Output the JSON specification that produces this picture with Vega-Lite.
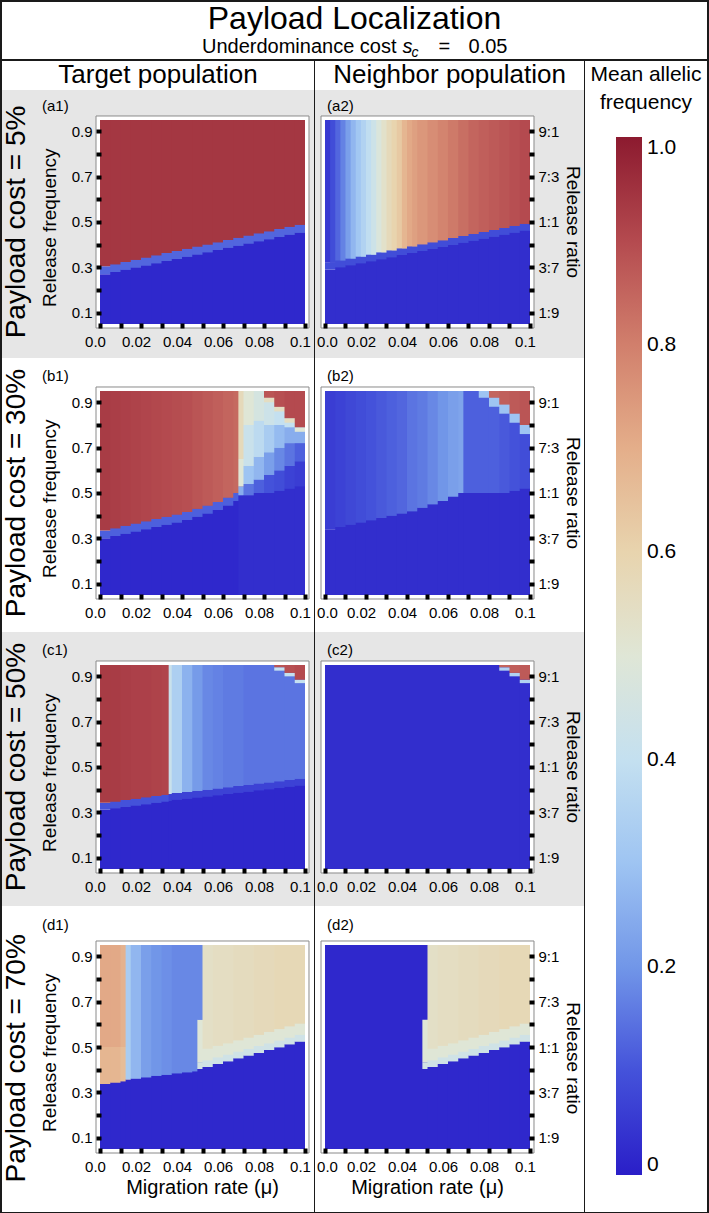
{
"$schema":"https://vega.github.io/schema/vega-lite/v6.json",
"padding":2,
"background":"#1a1a1a",
"spacing":1,
"config":{"font":"Liberation Sans","view":{"stroke":null},
"axis":{"domain":false,"grid":false,"ticks":true,"tickSize":5,"tickWidth":4,"tickColor":"black","labelFontSize":15,"labelColor":"black","labelFlush":false,"labelOverlap":false,"zindex":1},
"axisX":{"labelPadding":6},"axisY":{"labelPadding":4}},
"datasets":{
"a1":[
{"m0":0,"r0":0.05,"r1":0.27,"f":0.02},{"m0":0,"r0":0.27,"r1":0.305,"f":0.13},{"m0":0,"r0":0.305,"r1":0.95,"f":0.94},
{"m0":0.005,"r0":0.05,"r1":0.279,"f":0.02},{"m0":0.005,"r0":0.279,"r1":0.314,"f":0.13},{"m0":0.005,"r0":0.314,"r1":0.95,"f":0.94},
{"m0":0.01,"r0":0.05,"r1":0.289,"f":0.02},{"m0":0.01,"r0":0.289,"r1":0.324,"f":0.13},{"m0":0.01,"r0":0.324,"r1":0.95,"f":0.94},
{"m0":0.015,"r0":0.05,"r1":0.299,"f":0.02},{"m0":0.015,"r0":0.299,"r1":0.334,"f":0.13},{"m0":0.015,"r0":0.334,"r1":0.95,"f":0.94},
{"m0":0.02,"r0":0.05,"r1":0.308,"f":0.02},{"m0":0.02,"r0":0.308,"r1":0.343,"f":0.13},{"m0":0.02,"r0":0.343,"r1":0.95,"f":0.94},
{"m0":0.025,"r0":0.05,"r1":0.318,"f":0.02},{"m0":0.025,"r0":0.318,"r1":0.353,"f":0.13},{"m0":0.025,"r0":0.353,"r1":0.95,"f":0.94},
{"m0":0.03,"r0":0.05,"r1":0.328,"f":0.02},{"m0":0.03,"r0":0.328,"r1":0.363,"f":0.13},{"m0":0.03,"r0":0.363,"r1":0.95,"f":0.94},
{"m0":0.035,"r0":0.05,"r1":0.337,"f":0.02},{"m0":0.035,"r0":0.337,"r1":0.372,"f":0.13},{"m0":0.035,"r0":0.372,"r1":0.95,"f":0.94},
{"m0":0.04,"r0":0.05,"r1":0.347,"f":0.02},{"m0":0.04,"r0":0.347,"r1":0.382,"f":0.13},{"m0":0.04,"r0":0.382,"r1":0.95,"f":0.94},
{"m0":0.045,"r0":0.05,"r1":0.357,"f":0.02},{"m0":0.045,"r0":0.357,"r1":0.392,"f":0.13},{"m0":0.045,"r0":0.392,"r1":0.95,"f":0.94},
{"m0":0.05,"r0":0.05,"r1":0.366,"f":0.02},{"m0":0.05,"r0":0.366,"r1":0.401,"f":0.13},{"m0":0.05,"r0":0.401,"r1":0.95,"f":0.94},
{"m0":0.055,"r0":0.05,"r1":0.376,"f":0.02},{"m0":0.055,"r0":0.376,"r1":0.411,"f":0.13},{"m0":0.055,"r0":0.411,"r1":0.95,"f":0.94},
{"m0":0.06,"r0":0.05,"r1":0.386,"f":0.02},{"m0":0.06,"r0":0.386,"r1":0.421,"f":0.13},{"m0":0.06,"r0":0.421,"r1":0.95,"f":0.94},
{"m0":0.065,"r0":0.05,"r1":0.395,"f":0.02},{"m0":0.065,"r0":0.395,"r1":0.43,"f":0.13},{"m0":0.065,"r0":0.43,"r1":0.95,"f":0.94},
{"m0":0.07,"r0":0.05,"r1":0.405,"f":0.02},{"m0":0.07,"r0":0.405,"r1":0.44,"f":0.13},{"m0":0.07,"r0":0.44,"r1":0.95,"f":0.94},
{"m0":0.075,"r0":0.05,"r1":0.415,"f":0.02},{"m0":0.075,"r0":0.415,"r1":0.45,"f":0.13},{"m0":0.075,"r0":0.45,"r1":0.95,"f":0.94},
{"m0":0.08,"r0":0.05,"r1":0.424,"f":0.02},{"m0":0.08,"r0":0.424,"r1":0.459,"f":0.13},{"m0":0.08,"r0":0.459,"r1":0.95,"f":0.94},
{"m0":0.085,"r0":0.05,"r1":0.434,"f":0.02},{"m0":0.085,"r0":0.434,"r1":0.469,"f":0.13},{"m0":0.085,"r0":0.469,"r1":0.95,"f":0.94},
{"m0":0.09,"r0":0.05,"r1":0.444,"f":0.02},{"m0":0.09,"r0":0.444,"r1":0.479,"f":0.13},{"m0":0.09,"r0":0.479,"r1":0.95,"f":0.94},
{"m0":0.095,"r0":0.05,"r1":0.453,"f":0.02},{"m0":0.095,"r0":0.453,"r1":0.488,"f":0.13},{"m0":0.095,"r0":0.488,"r1":0.95,"f":0.94}
],
"a2":[
{"m0":0,"r0":0.05,"r1":0.29,"f":0.03},{"m0":0,"r0":0.29,"r1":0.32,"f":0.09},{"m0":0,"r0":0.32,"r1":0.95,"f":0.05},{"m0":0.0025,"r0":0.32,"r1":0.95,"f":0.09},
{"m0":0.005,"r0":0.05,"r1":0.3,"f":0.03},{"m0":0.005,"r0":0.3,"r1":0.33,"f":0.09},{"m0":0.005,"r0":0.33,"r1":0.95,"f":0.13},{"m0":0.0075,"r0":0.33,"r1":0.95,"f":0.17},
{"m0":0.01,"r0":0.05,"r1":0.309,"f":0.03},{"m0":0.01,"r0":0.309,"r1":0.339,"f":0.09},{"m0":0.01,"r0":0.339,"r1":0.95,"f":0.22},{"m0":0.0125,"r0":0.339,"r1":0.95,"f":0.27},
{"m0":0.015,"r0":0.05,"r1":0.318,"f":0.03},{"m0":0.015,"r0":0.318,"r1":0.348,"f":0.09},{"m0":0.015,"r0":0.348,"r1":0.95,"f":0.31},{"m0":0.0175,"r0":0.348,"r1":0.95,"f":0.35},
{"m0":0.02,"r0":0.05,"r1":0.327,"f":0.03},{"m0":0.02,"r0":0.327,"r1":0.357,"f":0.09},{"m0":0.02,"r0":0.357,"r1":0.95,"f":0.39},{"m0":0.0225,"r0":0.357,"r1":0.95,"f":0.43},
{"m0":0.025,"r0":0.05,"r1":0.336,"f":0.03},{"m0":0.025,"r0":0.336,"r1":0.366,"f":0.09},{"m0":0.025,"r0":0.366,"r1":0.95,"f":0.48},{"m0":0.0275,"r0":0.366,"r1":0.95,"f":0.53},
{"m0":0.03,"r0":0.05,"r1":0.345,"f":0.03},{"m0":0.03,"r0":0.345,"r1":0.375,"f":0.09},{"m0":0.03,"r0":0.375,"r1":0.95,"f":0.57},{"m0":0.0325,"r0":0.375,"r1":0.95,"f":0.6},
{"m0":0.035,"r0":0.05,"r1":0.354,"f":0.03},{"m0":0.035,"r0":0.354,"r1":0.384,"f":0.09},{"m0":0.035,"r0":0.384,"r1":0.95,"f":0.63},{"m0":0.0375,"r0":0.384,"r1":0.95,"f":0.68},
{"m0":0.04,"r0":0.05,"r1":0.363,"f":0.03},{"m0":0.04,"r0":0.363,"r1":0.393,"f":0.09},{"m0":0.04,"r0":0.393,"r1":0.95,"f":0.71},{"m0":0.0425,"r0":0.393,"r1":0.95,"f":0.73},
{"m0":0.045,"r0":0.05,"r1":0.372,"f":0.03},{"m0":0.045,"r0":0.372,"r1":0.402,"f":0.09},{"m0":0.045,"r0":0.402,"r1":0.95,"f":0.75},
{"m0":0.05,"r0":0.05,"r1":0.381,"f":0.03},{"m0":0.05,"r0":0.381,"r1":0.411,"f":0.09},{"m0":0.05,"r0":0.411,"r1":0.95,"f":0.77},
{"m0":0.055,"r0":0.05,"r1":0.39,"f":0.03},{"m0":0.055,"r0":0.39,"r1":0.42,"f":0.09},{"m0":0.055,"r0":0.42,"r1":0.95,"f":0.79},
{"m0":0.06,"r0":0.05,"r1":0.399,"f":0.03},{"m0":0.06,"r0":0.399,"r1":0.429,"f":0.09},{"m0":0.06,"r0":0.429,"r1":0.95,"f":0.81},
{"m0":0.065,"r0":0.05,"r1":0.408,"f":0.03},{"m0":0.065,"r0":0.408,"r1":0.438,"f":0.09},{"m0":0.065,"r0":0.438,"r1":0.95,"f":0.83},
{"m0":0.07,"r0":0.05,"r1":0.417,"f":0.03},{"m0":0.07,"r0":0.417,"r1":0.447,"f":0.09},{"m0":0.07,"r0":0.447,"r1":0.95,"f":0.85},
{"m0":0.075,"r0":0.05,"r1":0.426,"f":0.03},{"m0":0.075,"r0":0.426,"r1":0.456,"f":0.09},{"m0":0.075,"r0":0.456,"r1":0.95,"f":0.86},
{"m0":0.08,"r0":0.05,"r1":0.435,"f":0.03},{"m0":0.08,"r0":0.435,"r1":0.465,"f":0.09},{"m0":0.08,"r0":0.465,"r1":0.95,"f":0.87},
{"m0":0.085,"r0":0.05,"r1":0.444,"f":0.03},{"m0":0.085,"r0":0.444,"r1":0.474,"f":0.09},{"m0":0.085,"r0":0.474,"r1":0.95,"f":0.88},
{"m0":0.09,"r0":0.05,"r1":0.453,"f":0.03},{"m0":0.09,"r0":0.453,"r1":0.483,"f":0.09},{"m0":0.09,"r0":0.483,"r1":0.95,"f":0.89},
{"m0":0.095,"r0":0.05,"r1":0.462,"f":0.03},{"m0":0.095,"r0":0.462,"r1":0.492,"f":0.09},{"m0":0.095,"r0":0.492,"r1":0.95,"f":0.9}
],
"b1":[
{"m0":0,"r0":0.05,"r1":0.3,"f":0.02},{"m0":0,"r0":0.3,"r1":0.335,"f":0.12},{"m0":0,"r0":0.335,"r1":0.95,"f":0.93},
{"m0":0.005,"r0":0.05,"r1":0.31,"f":0.02},{"m0":0.005,"r0":0.31,"r1":0.345,"f":0.12},{"m0":0.005,"r0":0.345,"r1":0.95,"f":0.925},
{"m0":0.01,"r0":0.05,"r1":0.32,"f":0.02},{"m0":0.01,"r0":0.32,"r1":0.355,"f":0.12},{"m0":0.01,"r0":0.355,"r1":0.95,"f":0.92},
{"m0":0.015,"r0":0.05,"r1":0.33,"f":0.02},{"m0":0.015,"r0":0.33,"r1":0.365,"f":0.12},{"m0":0.015,"r0":0.365,"r1":0.95,"f":0.915},
{"m0":0.02,"r0":0.05,"r1":0.34,"f":0.02},{"m0":0.02,"r0":0.34,"r1":0.375,"f":0.12},{"m0":0.02,"r0":0.375,"r1":0.95,"f":0.91},
{"m0":0.025,"r0":0.05,"r1":0.35,"f":0.02},{"m0":0.025,"r0":0.35,"r1":0.385,"f":0.12},{"m0":0.025,"r0":0.385,"r1":0.95,"f":0.905},
{"m0":0.03,"r0":0.05,"r1":0.36,"f":0.02},{"m0":0.03,"r0":0.36,"r1":0.395,"f":0.12},{"m0":0.03,"r0":0.395,"r1":0.95,"f":0.9},
{"m0":0.035,"r0":0.05,"r1":0.37,"f":0.02},{"m0":0.035,"r0":0.37,"r1":0.405,"f":0.12},{"m0":0.035,"r0":0.405,"r1":0.95,"f":0.895},
{"m0":0.04,"r0":0.05,"r1":0.381,"f":0.02},{"m0":0.04,"r0":0.381,"r1":0.416,"f":0.12},{"m0":0.04,"r0":0.416,"r1":0.95,"f":0.89},
{"m0":0.045,"r0":0.05,"r1":0.395,"f":0.02},{"m0":0.045,"r0":0.395,"r1":0.43,"f":0.12},{"m0":0.045,"r0":0.43,"r1":0.95,"f":0.88},
{"m0":0.05,"r0":0.05,"r1":0.41,"f":0.02},{"m0":0.05,"r0":0.41,"r1":0.445,"f":0.12},{"m0":0.05,"r0":0.445,"r1":0.95,"f":0.87},
{"m0":0.055,"r0":0.05,"r1":0.425,"f":0.02},{"m0":0.055,"r0":0.425,"r1":0.46,"f":0.12},{"m0":0.055,"r0":0.46,"r1":0.95,"f":0.86},
{"m0":0.06,"r0":0.05,"r1":0.445,"f":0.02},{"m0":0.06,"r0":0.445,"r1":0.48,"f":0.12},{"m0":0.06,"r0":0.48,"r1":0.95,"f":0.85},
{"m0":0.065,"r0":0.05,"r1":0.465,"f":0.02},{"m0":0.065,"r0":0.465,"r1":0.5,"f":0.12},{"m0":0.065,"r0":0.5,"r1":0.95,"f":0.84},
{"m0":0.0675,"r0":0.05,"r1":0.49,"f":0.03},{"m0":0.0675,"r0":0.49,"r1":0.53,"f":0.25},{"m0":0.0675,"r0":0.53,"r1":0.65,"f":0.5},{"m0":0.0675,"r0":0.65,"r1":0.95,"f":0.57},
{"m0":0.07,"r0":0.05,"r1":0.49,"f":0.03},{"m0":0.07,"r0":0.49,"r1":0.54,"f":0.15},{"m0":0.07,"r0":0.54,"r1":0.62,"f":0.3},{"m0":0.07,"r0":0.62,"r1":0.8,"f":0.42},{"m0":0.07,"r0":0.8,"r1":0.95,"f":0.5},
{"m0":0.075,"r0":0.05,"r1":0.5,"f":0.03},{"m0":0.075,"r0":0.5,"r1":0.56,"f":0.12},{"m0":0.075,"r0":0.56,"r1":0.66,"f":0.27},{"m0":0.075,"r0":0.66,"r1":0.82,"f":0.38},{"m0":0.075,"r0":0.82,"r1":0.95,"f":0.46},
{"m0":0.08,"r0":0.05,"r1":0.5,"f":0.03},{"m0":0.08,"r0":0.5,"r1":0.58,"f":0.1},{"m0":0.08,"r0":0.58,"r1":0.68,"f":0.22},{"m0":0.08,"r0":0.68,"r1":0.8,"f":0.33},{"m0":0.08,"r0":0.8,"r1":0.9,"f":0.43},{"m0":0.08,"r0":0.9,"r1":0.92,"f":0.55},{"m0":0.08,"r0":0.92,"r1":0.95,"f":0.88},
{"m0":0.085,"r0":0.05,"r1":0.51,"f":0.03},{"m0":0.085,"r0":0.51,"r1":0.6,"f":0.09},{"m0":0.085,"r0":0.6,"r1":0.7,"f":0.18},{"m0":0.085,"r0":0.7,"r1":0.8,"f":0.28},{"m0":0.085,"r0":0.8,"r1":0.86,"f":0.4},{"m0":0.085,"r0":0.86,"r1":0.88,"f":0.55},{"m0":0.085,"r0":0.88,"r1":0.95,"f":0.89},
{"m0":0.09,"r0":0.05,"r1":0.52,"f":0.03},{"m0":0.09,"r0":0.52,"r1":0.62,"f":0.07},{"m0":0.09,"r0":0.62,"r1":0.72,"f":0.15},{"m0":0.09,"r0":0.72,"r1":0.79,"f":0.25},{"m0":0.09,"r0":0.79,"r1":0.81,"f":0.4},{"m0":0.09,"r0":0.81,"r1":0.83,"f":0.55},{"m0":0.09,"r0":0.83,"r1":0.95,"f":0.9},
{"m0":0.095,"r0":0.05,"r1":0.53,"f":0.03},{"m0":0.095,"r0":0.53,"r1":0.64,"f":0.06},{"m0":0.095,"r0":0.64,"r1":0.72,"f":0.12},{"m0":0.095,"r0":0.72,"r1":0.77,"f":0.25},{"m0":0.095,"r0":0.77,"r1":0.79,"f":0.5},{"m0":0.095,"r0":0.79,"r1":0.95,"f":0.9}
],
"b2":[
{"m0":0,"r0":0.05,"r1":0.34,"f":0.03},{"m0":0,"r0":0.34,"r1":0.95,"f":0.06},
{"m0":0.005,"r0":0.05,"r1":0.35,"f":0.03},{"m0":0.005,"r0":0.35,"r1":0.95,"f":0.07},
{"m0":0.01,"r0":0.05,"r1":0.36,"f":0.03},{"m0":0.01,"r0":0.36,"r1":0.95,"f":0.08},
{"m0":0.015,"r0":0.05,"r1":0.37,"f":0.03},{"m0":0.015,"r0":0.37,"r1":0.95,"f":0.09},
{"m0":0.02,"r0":0.05,"r1":0.38,"f":0.03},{"m0":0.02,"r0":0.38,"r1":0.95,"f":0.1},
{"m0":0.025,"r0":0.05,"r1":0.39,"f":0.03},{"m0":0.025,"r0":0.39,"r1":0.95,"f":0.11},
{"m0":0.03,"r0":0.05,"r1":0.4,"f":0.03},{"m0":0.03,"r0":0.4,"r1":0.95,"f":0.12},
{"m0":0.035,"r0":0.05,"r1":0.41,"f":0.03},{"m0":0.035,"r0":0.41,"r1":0.95,"f":0.13},
{"m0":0.04,"r0":0.05,"r1":0.42,"f":0.03},{"m0":0.04,"r0":0.42,"r1":0.95,"f":0.15},
{"m0":0.045,"r0":0.05,"r1":0.435,"f":0.03},{"m0":0.045,"r0":0.435,"r1":0.95,"f":0.16},
{"m0":0.05,"r0":0.05,"r1":0.45,"f":0.03},{"m0":0.05,"r0":0.45,"r1":0.95,"f":0.18},
{"m0":0.055,"r0":0.05,"r1":0.465,"f":0.03},{"m0":0.055,"r0":0.465,"r1":0.95,"f":0.2},
{"m0":0.06,"r0":0.05,"r1":0.485,"f":0.03},{"m0":0.06,"r0":0.485,"r1":0.95,"f":0.22},
{"m0":0.065,"r0":0.05,"r1":0.5,"f":0.03},{"m0":0.065,"r0":0.5,"r1":0.95,"f":0.23},
{"m0":0.0675,"r0":0.05,"r1":0.5,"f":0.03},{"m0":0.0675,"r0":0.5,"r1":0.95,"f":0.12},
{"m0":0.075,"r0":0.92,"r1":0.95,"f":0.3},
{"m0":0.08,"r0":0.05,"r1":0.5,"f":0.03},{"m0":0.08,"r0":0.5,"r1":0.88,"f":0.12},{"m0":0.08,"r0":0.88,"r1":0.92,"f":0.3},{"m0":0.08,"r0":0.92,"r1":0.95,"f":0.85},
{"m0":0.085,"r0":0.05,"r1":0.5,"f":0.03},{"m0":0.085,"r0":0.5,"r1":0.85,"f":0.11},{"m0":0.085,"r0":0.85,"r1":0.89,"f":0.3},{"m0":0.085,"r0":0.89,"r1":0.95,"f":0.86},
{"m0":0.09,"r0":0.05,"r1":0.51,"f":0.03},{"m0":0.09,"r0":0.51,"r1":0.81,"f":0.1},{"m0":0.09,"r0":0.81,"r1":0.85,"f":0.3},{"m0":0.09,"r0":0.85,"r1":0.95,"f":0.87},
{"m0":0.095,"r0":0.05,"r1":0.52,"f":0.03},{"m0":0.095,"r0":0.52,"r1":0.76,"f":0.09},{"m0":0.095,"r0":0.76,"r1":0.8,"f":0.3},{"m0":0.095,"r0":0.8,"r1":0.95,"f":0.88}
],
"c1":[
{"m0":0,"r0":0.05,"r1":0.312,"f":0.02},{"m0":0,"r0":0.312,"r1":0.342,"f":0.1},{"m0":0,"r0":0.342,"r1":0.95,"f":0.93},
{"m0":0.005,"r0":0.05,"r1":0.318,"f":0.02},{"m0":0.005,"r0":0.318,"r1":0.348,"f":0.1},{"m0":0.005,"r0":0.348,"r1":0.95,"f":0.93},
{"m0":0.01,"r0":0.05,"r1":0.324,"f":0.02},{"m0":0.01,"r0":0.324,"r1":0.354,"f":0.1},{"m0":0.01,"r0":0.354,"r1":0.95,"f":0.925},
{"m0":0.015,"r0":0.05,"r1":0.33,"f":0.02},{"m0":0.015,"r0":0.33,"r1":0.36,"f":0.1},{"m0":0.015,"r0":0.36,"r1":0.95,"f":0.92},
{"m0":0.02,"r0":0.05,"r1":0.336,"f":0.02},{"m0":0.02,"r0":0.336,"r1":0.366,"f":0.1},{"m0":0.02,"r0":0.366,"r1":0.95,"f":0.92},
{"m0":0.025,"r0":0.05,"r1":0.342,"f":0.02},{"m0":0.025,"r0":0.342,"r1":0.372,"f":0.1},{"m0":0.025,"r0":0.372,"r1":0.95,"f":0.915},
{"m0":0.03,"r0":0.05,"r1":0.348,"f":0.02},{"m0":0.03,"r0":0.348,"r1":0.378,"f":0.1},{"m0":0.03,"r0":0.378,"r1":0.95,"f":0.91},
{"m0":0.0335,"r0":0.05,"r1":0.351,"f":0.02},{"m0":0.0335,"r0":0.351,"r1":0.381,"f":0.07},{"m0":0.0335,"r0":0.381,"r1":0.95,"f":0.42},
{"m0":0.035,"r0":0.05,"r1":0.355,"f":0.02},{"m0":0.035,"r0":0.355,"r1":0.385,"f":0.07},{"m0":0.035,"r0":0.385,"r1":0.95,"f":0.34},
{"m0":0.04,"r0":0.05,"r1":0.36,"f":0.02},{"m0":0.04,"r0":0.36,"r1":0.39,"f":0.07},{"m0":0.04,"r0":0.39,"r1":0.95,"f":0.26},
{"m0":0.045,"r0":0.05,"r1":0.365,"f":0.02},{"m0":0.045,"r0":0.365,"r1":0.395,"f":0.07},{"m0":0.045,"r0":0.395,"r1":0.95,"f":0.21},
{"m0":0.05,"r0":0.05,"r1":0.37,"f":0.02},{"m0":0.05,"r0":0.37,"r1":0.4,"f":0.07},{"m0":0.05,"r0":0.4,"r1":0.95,"f":0.18},
{"m0":0.055,"r0":0.05,"r1":0.375,"f":0.02},{"m0":0.055,"r0":0.375,"r1":0.405,"f":0.07},{"m0":0.055,"r0":0.405,"r1":0.95,"f":0.17},
{"m0":0.06,"r0":0.05,"r1":0.381,"f":0.02},{"m0":0.06,"r0":0.381,"r1":0.411,"f":0.07},{"m0":0.06,"r0":0.411,"r1":0.95,"f":0.16},
{"m0":0.065,"r0":0.05,"r1":0.386,"f":0.02},{"m0":0.065,"r0":0.386,"r1":0.416,"f":0.07},{"m0":0.065,"r0":0.416,"r1":0.95,"f":0.16},
{"m0":0.07,"r0":0.05,"r1":0.391,"f":0.02},{"m0":0.07,"r0":0.391,"r1":0.421,"f":0.07},{"m0":0.07,"r0":0.421,"r1":0.95,"f":0.15},
{"m0":0.075,"r0":0.05,"r1":0.397,"f":0.02},{"m0":0.075,"r0":0.397,"r1":0.427,"f":0.07},{"m0":0.075,"r0":0.427,"r1":0.95,"f":0.15},
{"m0":0.08,"r0":0.05,"r1":0.402,"f":0.02},{"m0":0.08,"r0":0.402,"r1":0.432,"f":0.07},{"m0":0.08,"r0":0.432,"r1":0.95,"f":0.15},
{"m0":0.085,"r0":0.05,"r1":0.407,"f":0.02},{"m0":0.085,"r0":0.407,"r1":0.437,"f":0.07},{"m0":0.085,"r0":0.437,"r1":0.925,"f":0.15},{"m0":0.085,"r0":0.925,"r1":0.94,"f":0.4},{"m0":0.085,"r0":0.94,"r1":0.95,"f":0.88},
{"m0":0.09,"r0":0.05,"r1":0.413,"f":0.02},{"m0":0.09,"r0":0.413,"r1":0.443,"f":0.07},{"m0":0.09,"r0":0.443,"r1":0.9,"f":0.15},{"m0":0.09,"r0":0.9,"r1":0.915,"f":0.4},{"m0":0.09,"r0":0.915,"r1":0.95,"f":0.89},
{"m0":0.095,"r0":0.05,"r1":0.418,"f":0.02},{"m0":0.095,"r0":0.418,"r1":0.448,"f":0.07},{"m0":0.095,"r0":0.448,"r1":0.87,"f":0.15},{"m0":0.095,"r0":0.87,"r1":0.885,"f":0.4},{"m0":0.095,"r0":0.885,"r1":0.95,"f":0.9}
],
"c2":[
{"m0":0,"r0":0.05,"r1":0.95,"f":0.03},
{"m0":0.085,"r0":0.925,"r1":0.94,"f":0.35},{"m0":0.085,"r0":0.94,"r1":0.95,"f":0.85},
{"m0":0.09,"r0":0.05,"r1":0.9,"f":0.03},{"m0":0.09,"r0":0.9,"r1":0.915,"f":0.35},{"m0":0.09,"r0":0.915,"r1":0.95,"f":0.86},
{"m0":0.095,"r0":0.05,"r1":0.87,"f":0.03},{"m0":0.095,"r0":0.87,"r1":0.885,"f":0.35},{"m0":0.095,"r0":0.885,"r1":0.95,"f":0.87}
],
"d1":[
{"m0":0,"r0":0.05,"r1":0.337,"f":0.02},{"m0":0,"r0":0.337,"r1":0.5,"f":0.68},{"m0":0,"r0":0.5,"r1":0.95,"f":0.71},
{"m0":0.005,"r0":0.05,"r1":0.343,"f":0.02},{"m0":0.005,"r0":0.343,"r1":0.5,"f":0.68},{"m0":0.005,"r0":0.5,"r1":0.95,"f":0.71},
{"m0":0.01,"r0":0.05,"r1":0.349,"f":0.02},{"m0":0.01,"r0":0.349,"r1":0.5,"f":0.66},{"m0":0.01,"r0":0.5,"r1":0.95,"f":0.69},
{"m0":0.0125,"r0":0.05,"r1":0.357,"f":0.02},{"m0":0.0125,"r0":0.357,"r1":0.95,"f":0.33},
{"m0":0.015,"r0":0.05,"r1":0.361,"f":0.02},{"m0":0.015,"r0":0.361,"r1":0.95,"f":0.27},
{"m0":0.02,"r0":0.05,"r1":0.367,"f":0.02},{"m0":0.02,"r0":0.367,"r1":0.95,"f":0.22},
{"m0":0.025,"r0":0.05,"r1":0.373,"f":0.02},{"m0":0.025,"r0":0.373,"r1":0.95,"f":0.2},
{"m0":0.03,"r0":0.05,"r1":0.378,"f":0.02},{"m0":0.03,"r0":0.378,"r1":0.95,"f":0.19},
{"m0":0.035,"r0":0.05,"r1":0.384,"f":0.02},{"m0":0.035,"r0":0.384,"r1":0.95,"f":0.18},
{"m0":0.04,"r0":0.05,"r1":0.389,"f":0.02},{"m0":0.04,"r0":0.389,"r1":0.95,"f":0.18},
{"m0":0.045,"r0":0.05,"r1":0.393,"f":0.02},{"m0":0.045,"r0":0.393,"r1":0.95,"f":0.18},
{"m0":0.0475,"r0":0.05,"r1":0.403,"f":0.02},{"m0":0.0475,"r0":0.403,"r1":0.433,"f":0.45},{"m0":0.0475,"r0":0.433,"r1":0.62,"f":0.5},{"m0":0.0475,"r0":0.62,"r1":0.95,"f":0.18},
{"m0":0.05,"r0":0.05,"r1":0.412,"f":0.02},{"m0":0.05,"r0":0.412,"r1":0.442,"f":0.44},{"m0":0.05,"r0":0.442,"r1":0.492,"f":0.5},{"m0":0.05,"r0":0.492,"r1":0.95,"f":0.54},
{"m0":0.055,"r0":0.05,"r1":0.425,"f":0.02},{"m0":0.055,"r0":0.425,"r1":0.455,"f":0.44},{"m0":0.055,"r0":0.455,"r1":0.505,"f":0.5},{"m0":0.055,"r0":0.505,"r1":0.95,"f":0.55},
{"m0":0.06,"r0":0.05,"r1":0.437,"f":0.02},{"m0":0.06,"r0":0.437,"r1":0.467,"f":0.44},{"m0":0.06,"r0":0.467,"r1":0.517,"f":0.5},{"m0":0.06,"r0":0.517,"r1":0.95,"f":0.55},
{"m0":0.065,"r0":0.05,"r1":0.45,"f":0.02},{"m0":0.065,"r0":0.45,"r1":0.48,"f":0.44},{"m0":0.065,"r0":0.48,"r1":0.53,"f":0.5},{"m0":0.065,"r0":0.53,"r1":0.95,"f":0.56},
{"m0":0.07,"r0":0.05,"r1":0.462,"f":0.02},{"m0":0.07,"r0":0.462,"r1":0.492,"f":0.44},{"m0":0.07,"r0":0.492,"r1":0.542,"f":0.5},{"m0":0.07,"r0":0.542,"r1":0.95,"f":0.56},
{"m0":0.075,"r0":0.05,"r1":0.474,"f":0.02},{"m0":0.075,"r0":0.474,"r1":0.504,"f":0.44},{"m0":0.075,"r0":0.504,"r1":0.554,"f":0.5},{"m0":0.075,"r0":0.554,"r1":0.95,"f":0.57},
{"m0":0.08,"r0":0.05,"r1":0.487,"f":0.02},{"m0":0.08,"r0":0.487,"r1":0.517,"f":0.44},{"m0":0.08,"r0":0.517,"r1":0.567,"f":0.5},{"m0":0.08,"r0":0.567,"r1":0.95,"f":0.57},
{"m0":0.085,"r0":0.05,"r1":0.499,"f":0.02},{"m0":0.085,"r0":0.499,"r1":0.529,"f":0.44},{"m0":0.085,"r0":0.529,"r1":0.579,"f":0.5},{"m0":0.085,"r0":0.579,"r1":0.95,"f":0.58},
{"m0":0.09,"r0":0.05,"r1":0.512,"f":0.02},{"m0":0.09,"r0":0.512,"r1":0.542,"f":0.44},{"m0":0.09,"r0":0.542,"r1":0.592,"f":0.5},{"m0":0.09,"r0":0.592,"r1":0.95,"f":0.58},
{"m0":0.095,"r0":0.05,"r1":0.524,"f":0.02},{"m0":0.095,"r0":0.524,"r1":0.554,"f":0.44},{"m0":0.095,"r0":0.554,"r1":0.604,"f":0.5},{"m0":0.095,"r0":0.604,"r1":0.95,"f":0.58}
],
"d2":[
{"m0":0,"r0":0.05,"r1":0.95,"f":0.02},
{"m0":0.0475,"r0":0.403,"r1":0.433,"f":0.45},{"m0":0.0475,"r0":0.433,"r1":0.62,"f":0.5},
{"m0":0.05,"r0":0.05,"r1":0.412,"f":0.02},{"m0":0.05,"r0":0.412,"r1":0.442,"f":0.44},{"m0":0.05,"r0":0.442,"r1":0.492,"f":0.5},{"m0":0.05,"r0":0.492,"r1":0.95,"f":0.54},
{"m0":0.055,"r0":0.05,"r1":0.425,"f":0.02},{"m0":0.055,"r0":0.425,"r1":0.455,"f":0.44},{"m0":0.055,"r0":0.455,"r1":0.505,"f":0.5},{"m0":0.055,"r0":0.505,"r1":0.95,"f":0.55},
{"m0":0.06,"r0":0.05,"r1":0.437,"f":0.02},{"m0":0.06,"r0":0.437,"r1":0.467,"f":0.44},{"m0":0.06,"r0":0.467,"r1":0.517,"f":0.5},{"m0":0.06,"r0":0.517,"r1":0.95,"f":0.55},
{"m0":0.065,"r0":0.05,"r1":0.45,"f":0.02},{"m0":0.065,"r0":0.45,"r1":0.48,"f":0.44},{"m0":0.065,"r0":0.48,"r1":0.53,"f":0.5},{"m0":0.065,"r0":0.53,"r1":0.95,"f":0.56},
{"m0":0.07,"r0":0.05,"r1":0.462,"f":0.02},{"m0":0.07,"r0":0.462,"r1":0.492,"f":0.44},{"m0":0.07,"r0":0.492,"r1":0.542,"f":0.5},{"m0":0.07,"r0":0.542,"r1":0.95,"f":0.56},
{"m0":0.075,"r0":0.05,"r1":0.474,"f":0.02},{"m0":0.075,"r0":0.474,"r1":0.504,"f":0.44},{"m0":0.075,"r0":0.504,"r1":0.554,"f":0.5},{"m0":0.075,"r0":0.554,"r1":0.95,"f":0.57},
{"m0":0.08,"r0":0.05,"r1":0.487,"f":0.02},{"m0":0.08,"r0":0.487,"r1":0.517,"f":0.44},{"m0":0.08,"r0":0.517,"r1":0.567,"f":0.5},{"m0":0.08,"r0":0.567,"r1":0.95,"f":0.57},
{"m0":0.085,"r0":0.05,"r1":0.499,"f":0.02},{"m0":0.085,"r0":0.499,"r1":0.529,"f":0.44},{"m0":0.085,"r0":0.529,"r1":0.579,"f":0.5},{"m0":0.085,"r0":0.579,"r1":0.95,"f":0.58},
{"m0":0.09,"r0":0.05,"r1":0.512,"f":0.02},{"m0":0.09,"r0":0.512,"r1":0.542,"f":0.44},{"m0":0.09,"r0":0.542,"r1":0.592,"f":0.5},{"m0":0.09,"r0":0.592,"r1":0.95,"f":0.58},
{"m0":0.095,"r0":0.05,"r1":0.524,"f":0.02},{"m0":0.095,"r0":0.524,"r1":0.554,"f":0.44},{"m0":0.095,"r0":0.554,"r1":0.604,"f":0.5},{"m0":0.095,"r0":0.604,"r1":0.95,"f":0.58}
]
},
"vconcat":[
{"width":705,"height":57,"view":{"fill":"white"},"data":{"values":[{}]},"layer":[
{"mark":{"type":"text","text":"Payload Localization","fontSize":32,"baseline":"alphabetic","dy":-2},"encoding":{}},
{"mark":{"type":"text","text":"Underdominance cost","fontSize":20,"align":"right","baseline":"alphabetic","dx":42,"dy":22.5},"encoding":{}},
{"mark":{"type":"text","text":"s","fontSize":20,"fontStyle":"italic","align":"left","baseline":"alphabetic","dx":48,"dy":22.5},"encoding":{}},
{"mark":{"type":"text","text":"c","fontSize":14,"fontStyle":"italic","align":"left","baseline":"alphabetic","dx":57,"dy":26.5},"encoding":{}},
{"mark":{"type":"text","text":"=","fontSize":20,"align":"left","baseline":"alphabetic","dx":84,"dy":22.5},"encoding":{}},
{"mark":{"type":"text","text":"0.05","fontSize":20,"align":"right","baseline":"alphabetic","dx":153,"dy":22.5},"encoding":{}}
]},
{"spacing":1,"hconcat":[
{"spacing":0,"vconcat":[
{"width":312,"height":29,"view":{"fill":"white"},"data":{"values":[{}]},"mark":{"type":"text","text":"Target population","fontSize":26,"baseline":"alphabetic","dy":7},"encoding":{}},
{"width":312,"height":268,"view":{"fill":"#e6e6e6"},"data":{"values":[{}]},"layer":[
{"mark":{"type":"rect","fill":"white","stroke":"#8a8a8a","strokeWidth":1},"encoding":{
"x":{"datum":-0.00195,"type":"quantitative","scale":{"domain":[-0.0478049,0.1043902],"nice":false,"zero":false,"padding":0},"axis":{"orient":"bottom","offset":-35,"zindex":2,"tickCount":50,"values":[0,0.01,0.02,0.03,0.04,0.05,0.06,0.07,0.08,0.09,0.1],"labelExpr":"datum.value == 0 ? '0.0' : (round(datum.value * 100) % 2 == 0 ? format(datum.value, '.2~f') : '')","labelOffset":-5,"title":null}},
"x2":{"datum":0.10195},
"y":{"datum":0.03235,"type":"quantitative","scale":{"domain":[-0.1,1.08235],"nice":false,"zero":false,"padding":0},"axis":{"orient":"left","offset":-99,"zindex":2,"tickCount":50,"values":[0.1,0.2,0.3,0.4,0.5,0.6,0.7,0.8,0.9],"labelExpr":"round(datum.value * 10) % 2 == 1 ? format(datum.value, '.1f') : ''","title":null}},
"y2":{"datum":0.96765}}},
{"data":{"name":"a1"},"mark":{"type":"rect"},"encoding":{"x":{"field":"m0","type":"quantitative"},"x2":{"datum":0.1},"y":{"field":"r0","type":"quantitative"},"y2":{"field":"r1"},
"color":{"field":"f","type":"quantitative","scale":{"domain":[0,0.1,0.2,0.3,0.4,0.5,0.6,0.7,0.8,0.9,1],"range":["#2a1ec8","#4452da","#7196e8","#9ec4f2","#c4e0f0","#dfe6d6","#e8d4ae","#e4ae8a","#d17f6c","#b44a4f","#8c1a2f"],"interpolate":"rgb"},
"legend":{"type":"gradient","orient":"none","legendX":614,"legendY":135,"direction":"vertical","gradientLength":1038,"gradientThickness":26,"gradientStrokeWidth":0,"values":[0,0.2,0.4,0.6,0.8,1],"labelExpr":"datum.value == 0 ? '0' : format(datum.value, '.1f')","labelFontSize":21,"labelOffset":5,"labelBaseline":"middle","labelColor":"black","title":null,"padding":0}}}},
{"mark":{"type":"text","text":"(a1)","align":"left","baseline":"middle","fontSize":15},"encoding":{"x":{"datum":-0.0283},"y":{"datum":1.0118}}},
{"mark":{"type":"text","text":"Payload cost = 5%","angle":270,"baseline":"middle","fontSize":28},"encoding":{"x":{"datum":-0.0405},"y":{"datum":0.5}}},
{"mark":{"type":"text","text":"Release frequency","angle":270,"baseline":"middle","fontSize":19},"encoding":{"x":{"datum":-0.0244},"y":{"datum":0.475}}}
]},
{"width":312,"height":274,"view":{"fill":"white"},"data":{"values":[{}]},"layer":[
{"mark":{"type":"rect","fill":"white","stroke":"#8a8a8a","strokeWidth":1},"encoding":{
"x":{"datum":-0.00195,"type":"quantitative","scale":{"domain":[-0.0478049,0.1043902],"nice":false,"zero":false,"padding":0},"axis":{"orient":"bottom","offset":-38,"zindex":2,"tickCount":50,"values":[0,0.01,0.02,0.03,0.04,0.05,0.06,0.07,0.08,0.09,0.1],"labelExpr":"datum.value == 0 ? '0.0' : (round(datum.value * 100) % 2 == 0 ? format(datum.value, '.2~f') : '')","labelOffset":-5,"title":null}},
"x2":{"datum":0.10195},
"y":{"datum":0.03235,"type":"quantitative","scale":{"domain":[-0.11324,1.09559],"nice":false,"zero":false,"padding":0},"axis":{"orient":"left","offset":-99,"zindex":2,"tickCount":50,"values":[0.1,0.2,0.3,0.4,0.5,0.6,0.7,0.8,0.9],"labelExpr":"round(datum.value * 10) % 2 == 1 ? format(datum.value, '.1f') : ''","title":null}},
"y2":{"datum":0.96765}}},
{"data":{"name":"b1"},"mark":{"type":"rect"},"encoding":{"x":{"field":"m0","type":"quantitative"},"x2":{"datum":0.1},"y":{"field":"r0","type":"quantitative"},"y2":{"field":"r1"},
"color":{"field":"f","type":"quantitative","scale":{"domain":[0,0.1,0.2,0.3,0.4,0.5,0.6,0.7,0.8,0.9,1],"range":["#2a1ec8","#4452da","#7196e8","#9ec4f2","#c4e0f0","#dfe6d6","#e8d4ae","#e4ae8a","#d17f6c","#b44a4f","#8c1a2f"],"interpolate":"rgb"}}}},
{"mark":{"type":"text","text":"(b1)","align":"left","baseline":"middle","fontSize":15},"encoding":{"x":{"datum":-0.0283},"y":{"datum":1.016}}},
{"mark":{"type":"text","text":"Payload cost = 30%","angle":270,"baseline":"middle","fontSize":28},"encoding":{"x":{"datum":-0.0405},"y":{"datum":0.5}}},
{"mark":{"type":"text","text":"Release frequency","angle":270,"baseline":"middle","fontSize":19},"encoding":{"x":{"datum":-0.0244},"y":{"datum":0.475}}}
]},
{"width":312,"height":274,"view":{"fill":"#e6e6e6"},"data":{"values":[{}]},"layer":[
{"mark":{"type":"rect","fill":"white","stroke":"#8a8a8a","strokeWidth":1},"encoding":{
"x":{"datum":-0.00195,"type":"quantitative","scale":{"domain":[-0.0478049,0.1043902],"nice":false,"zero":false,"padding":0},"axis":{"orient":"bottom","offset":-38,"zindex":2,"tickCount":50,"values":[0,0.01,0.02,0.03,0.04,0.05,0.06,0.07,0.08,0.09,0.1],"labelExpr":"datum.value == 0 ? '0.0' : (round(datum.value * 100) % 2 == 0 ? format(datum.value, '.2~f') : '')","labelOffset":-5,"title":null}},
"x2":{"datum":0.10195},
"y":{"datum":0.03235,"type":"quantitative","scale":{"domain":[-0.11324,1.09559],"nice":false,"zero":false,"padding":0},"axis":{"orient":"left","offset":-99,"zindex":2,"tickCount":50,"values":[0.1,0.2,0.3,0.4,0.5,0.6,0.7,0.8,0.9],"labelExpr":"round(datum.value * 10) % 2 == 1 ? format(datum.value, '.1f') : ''","title":null}},
"y2":{"datum":0.96765}}},
{"data":{"name":"c1"},"mark":{"type":"rect"},"encoding":{"x":{"field":"m0","type":"quantitative"},"x2":{"datum":0.1},"y":{"field":"r0","type":"quantitative"},"y2":{"field":"r1"},
"color":{"field":"f","type":"quantitative","scale":{"domain":[0,0.1,0.2,0.3,0.4,0.5,0.6,0.7,0.8,0.9,1],"range":["#2a1ec8","#4452da","#7196e8","#9ec4f2","#c4e0f0","#dfe6d6","#e8d4ae","#e4ae8a","#d17f6c","#b44a4f","#8c1a2f"],"interpolate":"rgb"}}}},
{"mark":{"type":"text","text":"(c1)","align":"left","baseline":"middle","fontSize":15},"encoding":{"x":{"datum":-0.0283},"y":{"datum":1.016}}},
{"mark":{"type":"text","text":"Payload cost = 50%","angle":270,"baseline":"middle","fontSize":28},"encoding":{"x":{"datum":-0.0405},"y":{"datum":0.5}}},
{"mark":{"type":"text","text":"Release frequency","angle":270,"baseline":"middle","fontSize":19},"encoding":{"x":{"datum":-0.0244},"y":{"datum":0.475}}}
]},
{"width":312,"height":306,"view":{"fill":"white"},"data":{"values":[{}]},"layer":[
{"mark":{"type":"rect","fill":"white","stroke":"#8a8a8a","strokeWidth":1},"encoding":{
"x":{"datum":-0.00195,"type":"quantitative","scale":{"domain":[-0.0478049,0.1043902],"nice":false,"zero":false,"padding":0},"axis":{"orient":"bottom","offset":-64,"zindex":2,"tickCount":50,"values":[0,0.01,0.02,0.03,0.04,0.05,0.06,0.07,0.08,0.09,0.1],"labelExpr":"datum.value == 0 ? '0.0' : (round(datum.value * 100) % 2 == 0 ? format(datum.value, '.2~f') : '')","labelOffset":-5,"title":null}},
"x2":{"datum":0.10195},
"y":{"datum":0.03235,"type":"quantitative","scale":{"domain":[-0.22794,1.12206],"nice":false,"zero":false,"padding":0},"axis":{"orient":"left","offset":-99,"zindex":2,"tickCount":50,"values":[0.1,0.2,0.3,0.4,0.5,0.6,0.7,0.8,0.9],"labelExpr":"round(datum.value * 10) % 2 == 1 ? format(datum.value, '.1f') : ''","title":null}},
"y2":{"datum":0.96765}}},
{"data":{"name":"d1"},"mark":{"type":"rect"},"encoding":{"x":{"field":"m0","type":"quantitative"},"x2":{"datum":0.1},"y":{"field":"r0","type":"quantitative"},"y2":{"field":"r1"},
"color":{"field":"f","type":"quantitative","scale":{"domain":[0,0.1,0.2,0.3,0.4,0.5,0.6,0.7,0.8,0.9,1],"range":["#2a1ec8","#4452da","#7196e8","#9ec4f2","#c4e0f0","#dfe6d6","#e8d4ae","#e4ae8a","#d17f6c","#b44a4f","#8c1a2f"],"interpolate":"rgb"}}}},
{"mark":{"type":"text","text":"(d1)","align":"left","baseline":"middle","fontSize":15},"encoding":{"x":{"datum":-0.0283},"y":{"datum":1.04}}},
{"mark":{"type":"text","text":"Payload cost = 70%","angle":270,"baseline":"middle","fontSize":28},"encoding":{"x":{"datum":-0.0405},"y":{"datum":0.45}}},
{"mark":{"type":"text","text":"Release frequency","angle":270,"baseline":"middle","fontSize":19},"encoding":{"x":{"datum":-0.0244},"y":{"datum":0.475}}},
{"mark":{"type":"text","text":"Migration rate (μ)","baseline":"middle","fontSize":20},"encoding":{"x":{"datum":0.05},"y":{"datum":-0.122}}}
]}
]},
{"spacing":0,"vconcat":[
{"width":269,"height":29,"view":{"fill":"white"},"data":{"values":[{}]},"mark":{"type":"text","text":"Neighbor population","fontSize":26,"baseline":"alphabetic","dy":7},"encoding":{}},
{"width":269,"height":268,"view":{"fill":"#e6e6e6"},"data":{"values":[{}]},"layer":[
{"mark":{"type":"rect","fill":"white","stroke":"#8a8a8a","strokeWidth":1},"encoding":{
"x":{"datum":-0.00195,"type":"quantitative","scale":{"domain":[-0.004878,0.1263415],"nice":false,"zero":false,"padding":0},"axis":{"orient":"bottom","offset":-35,"zindex":2,"tickCount":50,"values":[0,0.01,0.02,0.03,0.04,0.05,0.06,0.07,0.08,0.09,0.1],"labelExpr":"datum.value == 0 ? '0.0' : (round(datum.value * 100) % 2 == 0 ? format(datum.value, '.2~f') : '')","labelOffset":{"condition":{"test":"datum.value == 0","value":2},"value":-5},"title":null}},
"x2":{"datum":0.10195},
"y":{"datum":0.03235,"type":"quantitative","scale":{"domain":[-0.1,1.08235],"nice":false,"zero":false,"padding":0},"axis":{"orient":"right","offset":-55,"zindex":2,"tickCount":50,"values":[0.1,0.2,0.3,0.4,0.5,0.6,0.7,0.8,0.9],"labelExpr":"round(datum.value*10) == 9 ? '9:1' : round(datum.value*10) == 7 ? '7:3' : round(datum.value*10) == 5 ? '1:1' : round(datum.value*10) == 3 ? '3:7' : round(datum.value*10) == 1 ? '1:9' : ''","title":null}},
"y2":{"datum":0.96765}}},
{"data":{"name":"a2"},"mark":{"type":"rect"},"encoding":{"x":{"field":"m0","type":"quantitative"},"x2":{"datum":0.1},"y":{"field":"r0","type":"quantitative"},"y2":{"field":"r1"},
"color":{"field":"f","type":"quantitative","scale":{"domain":[0,0.1,0.2,0.3,0.4,0.5,0.6,0.7,0.8,0.9,1],"range":["#2a1ec8","#4452da","#7196e8","#9ec4f2","#c4e0f0","#dfe6d6","#e8d4ae","#e4ae8a","#d17f6c","#b44a4f","#8c1a2f"],"interpolate":"rgb"}}}},
{"mark":{"type":"text","text":"(a2)","align":"left","baseline":"middle","fontSize":15},"encoding":{"x":{"datum":0.001},"y":{"datum":1.0118}}},
{"mark":{"type":"text","text":"Release ratio","angle":90,"baseline":"middle","fontSize":19},"encoding":{"x":{"datum":0.121},"y":{"datum":0.5}}}
]},
{"width":269,"height":274,"view":{"fill":"white"},"data":{"values":[{}]},"layer":[
{"mark":{"type":"rect","fill":"white","stroke":"#8a8a8a","strokeWidth":1},"encoding":{
"x":{"datum":-0.00195,"type":"quantitative","scale":{"domain":[-0.004878,0.1263415],"nice":false,"zero":false,"padding":0},"axis":{"orient":"bottom","offset":-38,"zindex":2,"tickCount":50,"values":[0,0.01,0.02,0.03,0.04,0.05,0.06,0.07,0.08,0.09,0.1],"labelExpr":"datum.value == 0 ? '0.0' : (round(datum.value * 100) % 2 == 0 ? format(datum.value, '.2~f') : '')","labelOffset":{"condition":{"test":"datum.value == 0","value":2},"value":-5},"title":null}},
"x2":{"datum":0.10195},
"y":{"datum":0.03235,"type":"quantitative","scale":{"domain":[-0.11324,1.09559],"nice":false,"zero":false,"padding":0},"axis":{"orient":"right","offset":-55,"zindex":2,"tickCount":50,"values":[0.1,0.2,0.3,0.4,0.5,0.6,0.7,0.8,0.9],"labelExpr":"round(datum.value*10) == 9 ? '9:1' : round(datum.value*10) == 7 ? '7:3' : round(datum.value*10) == 5 ? '1:1' : round(datum.value*10) == 3 ? '3:7' : round(datum.value*10) == 1 ? '1:9' : ''","title":null}},
"y2":{"datum":0.96765}}},
{"data":{"name":"b2"},"mark":{"type":"rect"},"encoding":{"x":{"field":"m0","type":"quantitative"},"x2":{"datum":0.1},"y":{"field":"r0","type":"quantitative"},"y2":{"field":"r1"},
"color":{"field":"f","type":"quantitative","scale":{"domain":[0,0.1,0.2,0.3,0.4,0.5,0.6,0.7,0.8,0.9,1],"range":["#2a1ec8","#4452da","#7196e8","#9ec4f2","#c4e0f0","#dfe6d6","#e8d4ae","#e4ae8a","#d17f6c","#b44a4f","#8c1a2f"],"interpolate":"rgb"}}}},
{"mark":{"type":"text","text":"(b2)","align":"left","baseline":"middle","fontSize":15},"encoding":{"x":{"datum":0.001},"y":{"datum":1.016}}},
{"mark":{"type":"text","text":"Release ratio","angle":90,"baseline":"middle","fontSize":19},"encoding":{"x":{"datum":0.121},"y":{"datum":0.5}}}
]},
{"width":269,"height":274,"view":{"fill":"#e6e6e6"},"data":{"values":[{}]},"layer":[
{"mark":{"type":"rect","fill":"white","stroke":"#8a8a8a","strokeWidth":1},"encoding":{
"x":{"datum":-0.00195,"type":"quantitative","scale":{"domain":[-0.004878,0.1263415],"nice":false,"zero":false,"padding":0},"axis":{"orient":"bottom","offset":-38,"zindex":2,"tickCount":50,"values":[0,0.01,0.02,0.03,0.04,0.05,0.06,0.07,0.08,0.09,0.1],"labelExpr":"datum.value == 0 ? '0.0' : (round(datum.value * 100) % 2 == 0 ? format(datum.value, '.2~f') : '')","labelOffset":{"condition":{"test":"datum.value == 0","value":2},"value":-5},"title":null}},
"x2":{"datum":0.10195},
"y":{"datum":0.03235,"type":"quantitative","scale":{"domain":[-0.11324,1.09559],"nice":false,"zero":false,"padding":0},"axis":{"orient":"right","offset":-55,"zindex":2,"tickCount":50,"values":[0.1,0.2,0.3,0.4,0.5,0.6,0.7,0.8,0.9],"labelExpr":"round(datum.value*10) == 9 ? '9:1' : round(datum.value*10) == 7 ? '7:3' : round(datum.value*10) == 5 ? '1:1' : round(datum.value*10) == 3 ? '3:7' : round(datum.value*10) == 1 ? '1:9' : ''","title":null}},
"y2":{"datum":0.96765}}},
{"data":{"name":"c2"},"mark":{"type":"rect"},"encoding":{"x":{"field":"m0","type":"quantitative"},"x2":{"datum":0.1},"y":{"field":"r0","type":"quantitative"},"y2":{"field":"r1"},
"color":{"field":"f","type":"quantitative","scale":{"domain":[0,0.1,0.2,0.3,0.4,0.5,0.6,0.7,0.8,0.9,1],"range":["#2a1ec8","#4452da","#7196e8","#9ec4f2","#c4e0f0","#dfe6d6","#e8d4ae","#e4ae8a","#d17f6c","#b44a4f","#8c1a2f"],"interpolate":"rgb"}}}},
{"mark":{"type":"text","text":"(c2)","align":"left","baseline":"middle","fontSize":15},"encoding":{"x":{"datum":0.001},"y":{"datum":1.016}}},
{"mark":{"type":"text","text":"Release ratio","angle":90,"baseline":"middle","fontSize":19},"encoding":{"x":{"datum":0.121},"y":{"datum":0.5}}}
]},
{"width":269,"height":306,"view":{"fill":"white"},"data":{"values":[{}]},"layer":[
{"mark":{"type":"rect","fill":"white","stroke":"#8a8a8a","strokeWidth":1},"encoding":{
"x":{"datum":-0.00195,"type":"quantitative","scale":{"domain":[-0.004878,0.1263415],"nice":false,"zero":false,"padding":0},"axis":{"orient":"bottom","offset":-64,"zindex":2,"tickCount":50,"values":[0,0.01,0.02,0.03,0.04,0.05,0.06,0.07,0.08,0.09,0.1],"labelExpr":"datum.value == 0 ? '0.0' : (round(datum.value * 100) % 2 == 0 ? format(datum.value, '.2~f') : '')","labelOffset":{"condition":{"test":"datum.value == 0","value":2},"value":-5},"title":null}},
"x2":{"datum":0.10195},
"y":{"datum":0.03235,"type":"quantitative","scale":{"domain":[-0.22794,1.12206],"nice":false,"zero":false,"padding":0},"axis":{"orient":"right","offset":-55,"zindex":2,"tickCount":50,"values":[0.1,0.2,0.3,0.4,0.5,0.6,0.7,0.8,0.9],"labelExpr":"round(datum.value*10) == 9 ? '9:1' : round(datum.value*10) == 7 ? '7:3' : round(datum.value*10) == 5 ? '1:1' : round(datum.value*10) == 3 ? '3:7' : round(datum.value*10) == 1 ? '1:9' : ''","title":null}},
"y2":{"datum":0.96765}}},
{"data":{"name":"d2"},"mark":{"type":"rect"},"encoding":{"x":{"field":"m0","type":"quantitative"},"x2":{"datum":0.1},"y":{"field":"r0","type":"quantitative"},"y2":{"field":"r1"},
"color":{"field":"f","type":"quantitative","scale":{"domain":[0,0.1,0.2,0.3,0.4,0.5,0.6,0.7,0.8,0.9,1],"range":["#2a1ec8","#4452da","#7196e8","#9ec4f2","#c4e0f0","#dfe6d6","#e8d4ae","#e4ae8a","#d17f6c","#b44a4f","#8c1a2f"],"interpolate":"rgb"}}}},
{"mark":{"type":"text","text":"(d2)","align":"left","baseline":"middle","fontSize":15},"encoding":{"x":{"datum":0.001},"y":{"datum":1.04}}},
{"mark":{"type":"text","text":"Release ratio","angle":90,"baseline":"middle","fontSize":19},"encoding":{"x":{"datum":0.121},"y":{"datum":0.45}}},
{"mark":{"type":"text","text":"Migration rate (μ)","baseline":"middle","fontSize":20},"encoding":{"x":{"datum":0.05},"y":{"datum":-0.122}}}
]}
]},
{"width":122,"height":1151,"view":{"fill":"white"},"data":{"values":[{}]},"layer":[
{"mark":{"type":"text","text":"Mean allelic","fontSize":21,"baseline":"alphabetic","dy":19.5},"encoding":{"y":{"datum":1,"type":"quantitative","scale":{"domain":[0,1]},"axis":null}}},
{"mark":{"type":"text","text":"frequency","fontSize":21,"baseline":"alphabetic","dy":47.5},"encoding":{"y":{"datum":1,"type":"quantitative"}}}
]}
]}
]
}
